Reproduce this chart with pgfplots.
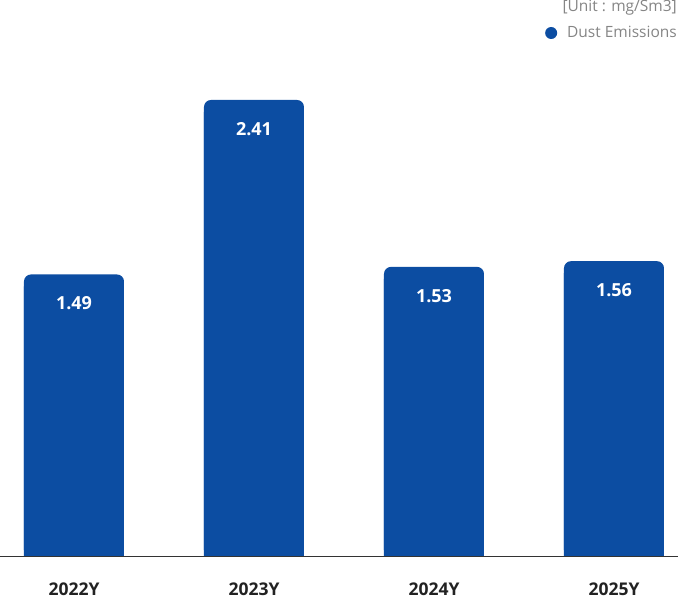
\documentclass[border=0pt]{standalone}
\usepackage{fontspec}
\setmainfont{Open Sans}
\usepackage{pgfplots}
\pgfplotsset{compat=1.18}
\usepackage{pgfplotstable}

\definecolor{barblue}{HTML}{0C4DA2}
\definecolor{legendgray}{HTML}{858585}
\definecolor{labeldark}{HTML}{222222}
\definecolor{baseline}{HTML}{333333}

\pgfplotstableread{
x  y     lbl
0  1.49  1.49
1  2.41  2.41
2  1.53  1.53
3  1.56  1.56
}\dustdata

\begin{document}
\begin{tikzpicture}[x=1pt,y=1pt]
  \path[use as bounding box] (0,-42) rectangle (678,557);
  \begin{axis}[
      at={(0,0)}, anchor=south west,
      scale only axis,
      width=678pt, height=457pt,
      xmin=-0.4111, xmax=3.3556,
      ymin=0, ymax=2.41,
      axis on top,
      hide y axis,
      axis x line*=bottom,
      x axis line style={draw=baseline, line width=1pt, -},
      xtick={0,1,2,3},
      xticklabels={2022Y,2023Y,2024Y,2025Y},
      major tick length=0pt,
      xticklabel style={anchor=base, inner sep=0pt, yshift=-39pt,
        font=\fontsize{17.5}{19}\selectfont\bfseries, text=labeldark},
      legend style={at={(677/678,1.1466)}, anchor=east, draw=none, fill=none, inner sep=0pt,
        nodes={inner xsep=0pt},
        font=\fontsize{15.5}{18}\selectfont, text=legendgray},
      legend image code/.code={\fill[barblue] (0pt,0pt) circle (6pt); \path (16pt,0pt);},
      clip=true,
    ]
    % square-cornered body, sunk below the baseline so only the top corners show rounded
    \addplot[ybar, bar width=100pt, fill=barblue, draw=none, yshift=-12pt, forget plot]
      table[x=x, y=y] {\dustdata};
    \addplot[ybar, bar width=100pt, fill=barblue, draw=none, rounded corners=7pt,
        nodes near coords, point meta=explicit symbolic,
        every node near coord/.append style={anchor=base, yshift=-35.5pt, text=white,
          font=\fontsize{18}{20}\selectfont\bfseries}]
      table[x=x, y=y, meta=lbl] {\dustdata};
    \addlegendentry{Dust Emissions}
  \end{axis}
  \node[anchor=east, inner sep=0pt, text=legendgray, font=\fontsize{15.5}{18}\selectfont] at (677,549) {[Unit : mg/Sm3]};
\end{tikzpicture}
\end{document}
